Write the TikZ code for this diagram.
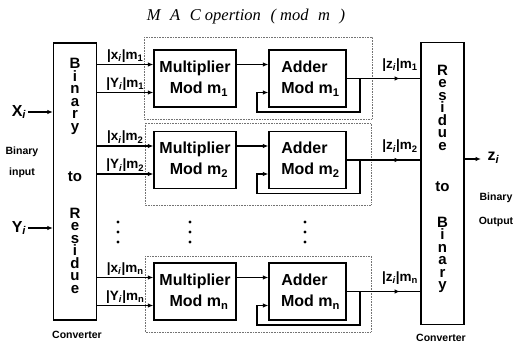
\documentclass[tikz,border=0pt]{standalone}
\usepackage{fontspec}
\setmainfont{Liberation Sans}
\newfontfamily\titlefont{Liberation Serif}
\usetikzlibrary{arrows.meta,calc}
\newcommand\lblx[2]{|#1\textsubscript{\textit{i}}|m\textsubscript{#2}}
\begin{document}
\begin{tikzpicture}[x=1pt,y=-1pt,
  line width=1.2pt,
  arr/.style={-{Latex[length=5.5pt,width=4.5pt]}},
  blk/.style={draw,minimum width=82pt,minimum height=57pt,inner sep=0pt,align=center,
     font={\fontsize{16}{21}\selectfont\bfseries}},
  conv/.style={draw,minimum width=43pt,inner sep=0pt},
  vword/.style={align=center,inner sep=0pt,font={\fontsize{15}{12.5}\selectfont\bfseries}},
  sml/.style={font={\fontsize{13.5}{14}\selectfont\bfseries},inner sep=0.5pt,anchor=south},
  captext/.style={font={\fontsize{10.5}{12}\selectfont\bfseries},inner sep=0pt},
  dotbox/.style={draw=black!55,densely dotted,line width=0.6pt},
  dotmark/.style={circle,fill,inner sep=0pt,minimum size=3.4pt}]
\useasboundingbox (0,0) rectangle (517,344);
% title
\node (title) at (246,17) {\titlefont\itshape\fontsize{16.5}{18}\selectfont M\,\, A\,\, C opertion\,\, ( mod\,\, m\,\, )};
% converters
\node[conv,minimum height=277pt] (L) at (75,181.5) {};
\node[conv,minimum height=282pt] (R) at (442.5,183.5) {};
\node[vword] (Lb) at (75,96.5) {B\\i\\n\\a\\r\\y};
\node[vword] (Lt) at (75,177) {to};
\node[vword] (Lr) at (75,250.5) {R\\e\\s\\i\\d\\u\\e};
\node[vword] (Rr) at (442.5,107.5) {R\\e\\s\\i\\d\\u\\e};
\node[vword] (Rt) at (442.5,187) {to};
\node[vword] (Rb) at (442.5,255) {B\\i\\n\\a\\r\\y};
% dotted boxes
\draw[dotbox] (144,37) rectangle (372,119);
\draw[dotbox] (145,123) rectangle (371,205);
\draw[dotbox] (145,256) rectangle (371,332);
% arrow tip x positions
\coordinate (tipx) at (400,0);
\coordinate (jx) at (360,0);
\coordinate (lx) at (257,0);
% rows
\foreach \r/\c/\s in {1/78.5/1,2/160/2,3/291.5/n}{
  \node[blk] (M\r) at (195,\c) {Multiplier\\\hspace*{8pt}Mod m\textsubscript{\s}};
  \node[blk,minimum width=77pt] (A\r) at (307.5,\c) {\hspace*{-6pt}Adder\\\hspace*{6pt}Mod m\textsubscript{\s}};
  \coordinate (ix\r) at ($(M\r.west)+(0,-14)$);
  \coordinate (iy\r) at ($(M\r.west)+(0,14)$);
  \draw[arr] (ix\r -| L.east) -- (ix\r);
  \draw[arr] (iy\r -| L.east) -- (iy\r);
  \node[sml] (lx\r) at ($(ix\r -| L.east)!0.5!(ix\r)+(0,-1)$) {\lblx{x}{\s}};
  \node[sml] (ly\r) at ($(iy\r -| L.east)!0.5!(iy\r)+(0,-1)$) {\lblx{Y}{\s}};
  \draw[arr] (M\r.east |- ix\r) -- (A\r.west |- ix\r);
  \coordinate (j\r) at (A\r.east -| jx);
  \draw (A\r.east) -- (A\r.east -| R.west);
  \draw[arr] (A\r.east) -- (A\r.east -| tipx);
  \draw[arr] (j\r) -- ++(0,33.5) -| ($(lx |- A\r.west)+(0,14)$) -- ($(A\r.west)+(0,14)$);
  \node[sml] (lz\r) at ($(A\r.east -| tipx)+(0,-6)$) {|z\textsubscript{\textit{i}}|m\textsubscript{\s}};
}
% dots
\foreach \xx/\nm in {118/a,190/b,305/c}{
  \node[dotmark] (d1\nm) at (\xx,222) {};
  \node[dotmark] (d2\nm) at (\xx,232) {};
  \node[dotmark] (d3\nm) at (\xx,242) {};
}
% inputs
\node[font={\fontsize{16}{18}\selectfont\bfseries},inner sep=1pt] (X) at (19,112) {X\textsubscript{\textit{i}}};
\node[font={\fontsize{16}{18}\selectfont\bfseries},inner sep=1pt] (Y) at (19,228) {Y\textsubscript{\textit{i}}};
\draw[arr] (X.east) -- (X.east -| L.west);
\draw[arr] (Y.east) -- (Y.east -| L.west);
\node[captext] (bi) at (22,152) {Binary};
\node[captext] (in) at (22,173) {input};
\node[captext] (cl) at (77,335) {Converter};
% output
\coordinate (ox) at (481,0);
\coordinate (oy) at (0,159);
\draw[arr] (R.east |- oy) -- (ox |- oy);
\node[font={\fontsize{16}{18}\selectfont\bfseries},inner sep=1pt,anchor=west] (Z) at (486,158) {z\textsubscript{\textit{i}}};
\node[captext] (bo) at (496,198) {Binary};
\node[captext] (ou) at (496,222) {Output};
\node[captext] (cr) at (441,338) {Converter};
\end{tikzpicture}
\end{document}
